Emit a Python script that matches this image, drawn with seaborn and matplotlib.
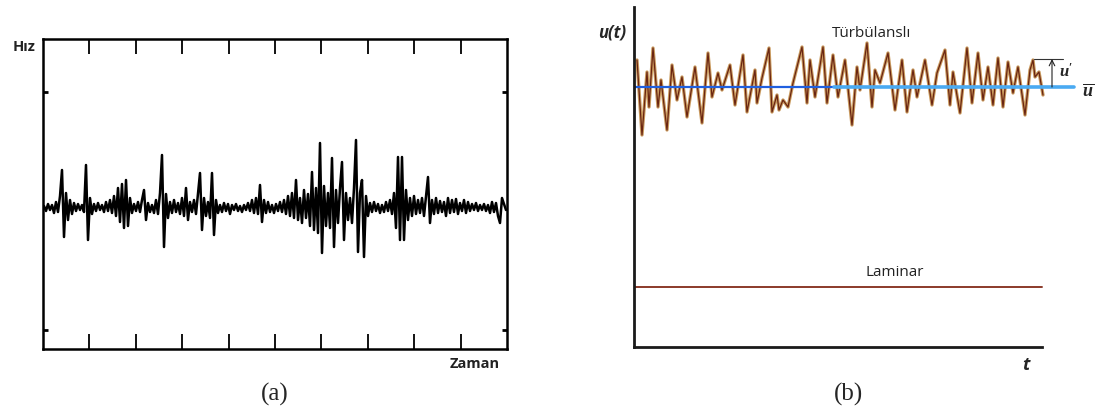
import numpy as np
import pandas as pd
import matplotlib
matplotlib.use("Agg")
import matplotlib.pyplot as plt
import seaborn as sns

# ---------------- data ----------------
# (a) hot-wire velocity record, displacement from the mean level (arbitrary units)
velocity_a = [
    2, -3, 4, -2, 3, -5, 6, -4, 12, 38, -29, 15, -12, 8, -6, 5, -3, 4, -2, 3,
    -4, 43, -32, 10, -6, 4, -3, 5, -2, 3, -4, 6, -3, 8, -5, 12, -8, 20, -14, 24,
    -20, 28, -18, 10, -5, 4, -3, 6, -4, 8, 18, -12, 5, -4, 3, -5, 8, -6, 15, 53,
    -39, 14, -10, 6, -5, 8, -4, 5, -6, 10, -8, 20, -12, 6, -4, 8, -6, 14, 35, -22,
    10, -8, 6, -10, 35, -27, 8, -5, 3, -4, 5, -3, 4, -6, 3, -2, 4, -3, 2, -4,
    3, -2, 5, -3, 8, -5, 10, -6, 23, -14, 8, -5, 6, -4, 3, -5, 4, -3, 6, -4,
    8, -6, 12, -8, 15, -10, 28, -12, 10, -15, 18, -10, 14, -18, 36, -22, 20, -25, 65, -45,
    22, -18, 15, -20, 50, -39, 18, -15, 20, 46, -32, 15, -12, 10, -15, 20, 68, -44, 15, 28,
    -49, 12, -8, 5, -4, 6, -3, 4, -5, 3, -4, 6, -3, 8, -6, 15, -20, 51, -32, 51,
    -32, 18, -12, 10, -8, 12, -6, 8, -5, 10, -8, 12, 31, -15, 8, -6, 10, -5, 7, -4,
    6, -8, 10, -5, 8, -4, 9, -6, 5, -3, 8, -5, 6, -3, 4, -2, 5, -3, 3, -2,
    4, -3, 3, -5, 6, -4, 5, -8, -15, 10, 4, -2,
]

# (b) turbulent velocity u(t) (arbitrary units)
turb_t = [3, 8, 13, 15, 19, 24, 27, 33, 38, 43, 48, 53, 61, 68, 74, 78, 84, 88, 96, 101,
          109, 113, 121, 123, 128, 135, 138, 143, 145, 149, 154, 159, 168, 173, 176, 181, 189, 193, 199, 204,
          211, 218, 223, 226, 233, 238, 241, 246, 254, 261, 268, 273, 279, 283, 291, 298, 303, 311, 316, 319,
          326, 333, 338, 344, 349, 354, 359, 364, 369, 374, 379, 384, 391, 396, 399, 401, 405, 409]
turb_u = [28.7, 21.2, 27.5, 24.0, 29.9, 24.0, 26.7, 21.7, 28.2, 24.7, 27.0, 23.0, 28.0, 22.4, 29.4, 25.0, 27.4, 25.7, 28.2, 24.2,
          29.2, 23.5, 27.7, 24.4, 26.9, 29.9, 23.5, 25.2, 23.7, 24.7, 24.0, 26.4, 30.0, 24.4, 28.7, 25.0, 30.0, 24.4, 29.2, 25.0,
          28.7, 22.2, 28.0, 25.7, 30.4, 24.0, 27.7, 26.4, 29.4, 23.7, 28.7, 23.5, 27.7, 25.0, 28.7, 24.2, 27.4, 29.7, 24.2, 27.5,
          23.4, 29.9, 24.4, 29.4, 24.7, 28.0, 24.2, 28.9, 24.0, 28.5, 25.4, 28.0, 23.2, 27.7, 28.7, 27.0, 27.5, 25.2]
mean_u = 26.0          # time-averaged velocity  (u bar)
u_prime_peak = 28.8    # level used to mark the fluctuation u'
laminar_u = 6.0        # laminar (steady) velocity
t_end = 408            # end of the time axis
mean_split = 200       # where the mean line changes shade
mean_end = 440

# ---------------- figure ----------------
sns.set_style("white")
plt.rcParams['font.family'] = ['Open Sans', 'DejaVu Sans']
plt.rcParams['mathtext.fontset'] = 'custom'
plt.rcParams['mathtext.it'] = 'Liberation Serif:italic:bold'
plt.rcParams['mathtext.rm'] = 'Liberation Serif:bold'

W, H = 1096, 415
fig = plt.figure(figsize=(W / 100, H / 100), dpi=100)

# ----- panel (a) -----
axa = fig.add_axes([43 / W, 1 - 349 / H, 464 / W, 310 / H])
n = len(velocity_a)
df_a = pd.DataFrame({"i": np.arange(n), "v": velocity_a})
sns.lineplot(data=df_a, x="i", y="v", ax=axa, color="black", lw=1.8)
x0, x1 = -0.5, n - 0.5
axa.set_xlim(x0, x1)
axa.set_ylim(-141, 169)
axa.set_xticks(np.linspace(x0, x1, 11)[1:-1])
axa.set_yticks([-122, 116])
axa.tick_params(axis="x", direction="in", top=True, bottom=True, length=11, width=1.3,
                labelbottom=False, labeltop=False, color="black")
axa.tick_params(axis="y", direction="in", left=True, right=True, length=3.5, width=2,
                labelleft=False, labelright=False, color="black")
for s in axa.spines.values():
    s.set_visible(True)
    s.set_color("black")
    s.set_linewidth(1.8)
axa.set_xlabel("")
axa.set_ylabel("")

fig.text(24 / W, 1 - 47 / H, "Hız", ha="center", va="center", fontsize=10.5,
         fontweight="bold", color="#222222")
fig.text(475 / W, 1 - 364 / H, "Zaman", ha="center", va="center", fontsize=10.5,
         fontweight="bold", color="#222222")
fig.text(275 / W, 1 - 394 / H, "(a)", ha="center", va="center", fontsize=18,
         family=["Liberation Serif", "DejaVu Serif"])

# ----- panel (b) -----
axb = fig.add_axes([634 / W, 1 - 347 / H, 462 / W, 340 / H])
axb.set_xlim(0, 462)
axb.set_ylim(0, 34)

df_b = pd.DataFrame({"t": turb_t, "u": turb_u})
sns.lineplot(data=df_b, x="t", y="u", ax=axb, color="#c99a5e", lw=2.4, sort=False)
sns.lineplot(data=df_b, x="t", y="u", ax=axb, color="#6a2512", lw=0.9, sort=False)

df_m1 = pd.DataFrame({"t": [0, mean_split], "u": [mean_u, mean_u]})
df_m2 = pd.DataFrame({"t": [mean_split, mean_end], "u": [mean_u, mean_u]})
sns.lineplot(data=df_m1, x="t", y="u", ax=axb, color="#1f5fe0", lw=1.6)
sns.lineplot(data=df_m2, x="t", y="u", ax=axb, color="#4aaaf2", lw=2.6)

df_l = pd.DataFrame({"t": [0, t_end], "u": [laminar_u, laminar_u]})
sns.lineplot(data=df_l, x="t", y="u", ax=axb, color="#8b3a2a", lw=1.4)

# u' marker
axb.plot([400, 429], [u_prime_peak, u_prime_peak], color="#333333", lw=0.8)
axb.annotate("", xy=(418, u_prime_peak), xytext=(418, mean_u),
             arrowprops=dict(arrowstyle="->", lw=0.8, color="#222222", shrinkA=0, shrinkB=0))
axb.text(425, 27.5, r"$u'$", ha="left", va="center", fontsize=12)
axb.text(454, 25.6, r"$\overline{u}$", ha="center", va="center", fontsize=13,
         clip_on=False)

axb.set_xticks([])
axb.set_yticks([])
for k in ("top", "right"):
    axb.spines[k].set_visible(False)
for k in ("left", "bottom"):
    axb.spines[k].set_visible(True)
    axb.spines[k].set_color("#1a1a1a")
    axb.spines[k].set_linewidth(2.0)
axb.spines["bottom"].set_bounds(0, t_end)
axb.set_xlabel("")
axb.set_ylabel("")

axb.text(238, 31.4, "Türbülanslı", ha="center", va="center", fontsize=11, color="#222222")
axb.text(261, 7.5, "Laminar", ha="center", va="center", fontsize=11, color="#222222")
axb.text(-22, 31.5, "u(t)", ha="center", va="center", fontsize=12, fontweight="bold",
         style="italic", clip_on=False)
axb.text(392, -1.8, "t", ha="center", va="center", fontsize=13, fontweight="bold",
         style="italic", clip_on=False)
fig.text(848 / W, 1 - 394 / H, "(b)", ha="center", va="center", fontsize=18,
         family=["Liberation Serif", "DejaVu Serif"])

fig.savefig("out.png", dpi=100)
